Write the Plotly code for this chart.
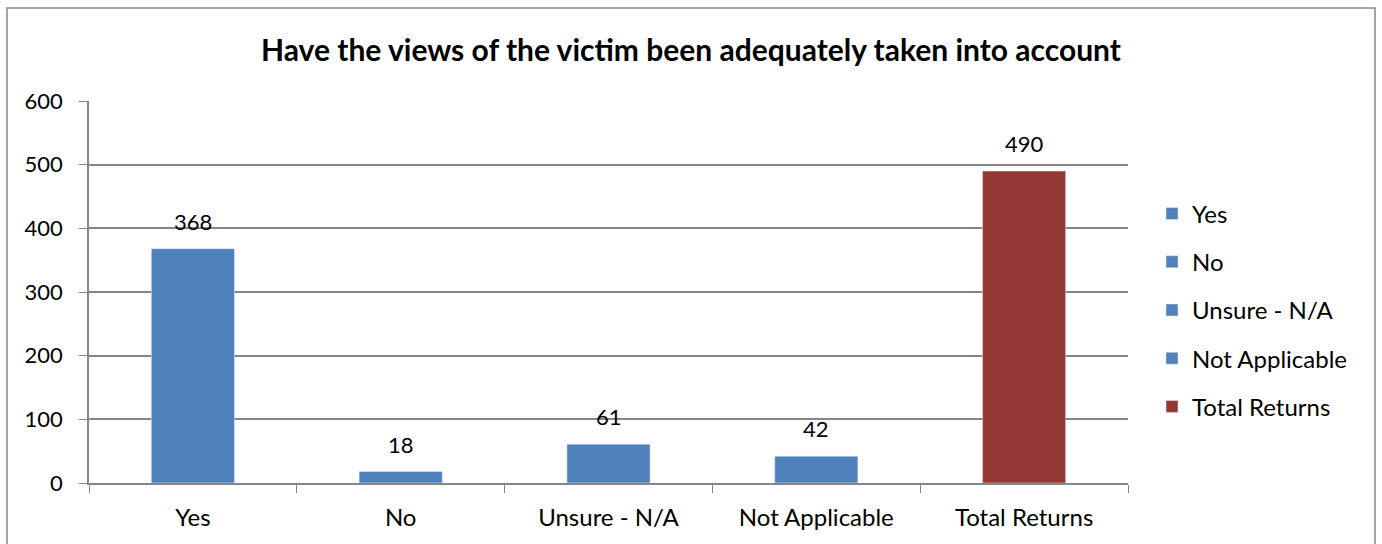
import plotly.graph_objects as go

categories = ["Yes", "No", "Unsure - N/A", "Not Applicable", "Total Returns"]
values = [368, 18, 61, 42, 490]
colors = ["#4F81BD", "#4F81BD", "#4F81BD", "#4F81BD", "#953735"]
y_ticks = [0, 100, 200, 300, 400, 500, 600]

FONT = "Lato, Open Sans, sans-serif"
fig = go.Figure()
for i, (c, v) in enumerate(zip(categories, values)):
    fig.add_trace(go.Bar(
        x=[c], y=[v], name=c, marker_color=colors[i], width=0.4,
        legendgroup=c, textposition="none",
    ))
    fig.add_annotation(x=c, y=v, text=str(v), showarrow=False, yanchor="bottom",
                       yshift=12, font=dict(size=22, color="#000", family=FONT))

W, H = 1382, 544
L, R, T, B = 89, 254, 101, 61
pw, ph = W - L - R, H - T - B

fig.update_layout(
    width=W, height=H, barmode="overlay",
    margin=dict(l=L, r=R, t=T, b=B),
    paper_bgcolor="white", plot_bgcolor="white",
    font=dict(family=FONT, size=24, color="#000"),
    title=dict(text="<b>Have the views of the victim been adequately taken into account</b>",
               x=0.5, xanchor="center", y=1 - 50 / H, yanchor="middle",
               font=dict(size=30, family=FONT, color="#000")),
    xaxis=dict(type="category", categoryorder="array", categoryarray=categories,
               showline=True, linecolor="#868686", linewidth=1.5,
               ticks="outside", tickson="boundaries", ticklen=8, tickcolor="#868686",
               showgrid=False, tickfont=dict(size=24), ticklabelstandoff=12),
    yaxis=dict(range=[0, 600], tickvals=y_ticks, showline=True, linecolor="#868686",
               linewidth=1.5, ticks="outside", ticklen=8, tickcolor="#868686",
               showgrid=True, gridcolor="#868686", gridwidth=1.5, zeroline=False,
               tickfont=dict(size=22), ticklabelstandoff=12),
    legend=dict(x=(1152 - L) / pw, xanchor="left", y=(483 - 310) / ph, yanchor="middle",
                tracegroupgap=14, font=dict(size=24), itemwidth=30),
    showlegend=True,
)
fig.add_shape(type="rect", xref="paper", yref="paper",
              x0=(7 - L) / pw, x1=(1375 - L) / pw,
              y0=-(B + 10) / ph, y1=1 + (T - 8) / ph,
              line=dict(color="#868686", width=1.5), fillcolor="rgba(0,0,0,0)", layer="below")

fig.write_html("out.html")
